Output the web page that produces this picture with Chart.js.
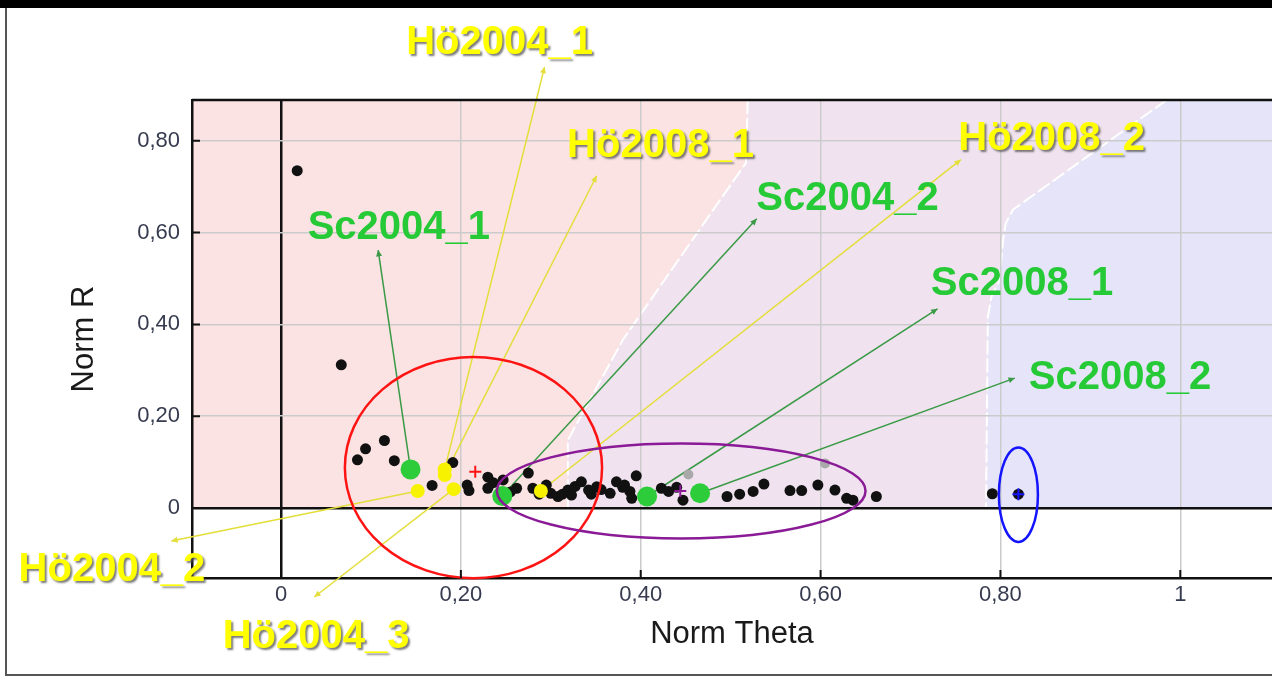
<!DOCTYPE html>
<html>
<head>
<meta charset="utf-8">
<script src="https://cdn.jsdelivr.net/npm/chart.js@4.4.1/dist/chart.umd.min.js"></script>
<style>
  html, body { margin: 0; padding: 0; background: #fff; }
</style>
</head>
<body>
<canvas id="chart" width="1272" height="677"></canvas>
<script>
// axis ticks
const xTickValues = [0, 0.2, 0.4, 0.6, 0.8, 1];
const xTickLabels = ['0', '0,20', '0,40', '0,60', '0,80', '1'];
const yTickValues = [0, 0.2, 0.4, 0.6, 0.8];
const yTickLabels = ['0', '0,20', '0,40', '0,60', '0,80'];

// all samples (black)
const blackTheta = [0.018, 0.067, 0.085, 0.094, 0.115, 0.126, 0.168, 0.191, 0.207, 0.209,
  0.230, 0.230, 0.236, 0.247, 0.255, 0.262, 0.275, 0.280, 0.287, 0.295, 0.300, 0.308, 0.313,
  0.319, 0.323, 0.327, 0.334, 0.342, 0.345, 0.351, 0.356, 0.366, 0.373, 0.380, 0.382, 0.388,
  0.390, 0.395, 0.423, 0.431, 0.440, 0.447, 0.496, 0.510, 0.525, 0.537, 0.566, 0.579, 0.597,
  0.616, 0.629, 0.636, 0.662, 0.791, 0.820];
const blackR = [0.735, 0.312, 0.105, 0.129, 0.147, 0.103, 0.049, 0.099, 0.050, 0.038,
  0.067, 0.043, 0.055, 0.061, 0.035, 0.043, 0.076, 0.043, 0.030, 0.050, 0.032, 0.025, 0.030,
  0.039, 0.028, 0.047, 0.057, 0.039, 0.030, 0.046, 0.040, 0.032, 0.057, 0.045, 0.050, 0.036,
  0.021, 0.070, 0.043, 0.036, 0.045, 0.017, 0.025, 0.030, 0.036, 0.052, 0.038, 0.038, 0.050,
  0.039, 0.021, 0.017, 0.025, 0.031, 0.030];
const grayTheta = [0.453, 0.605];
const grayR = [0.073, 0.097];

// labelled samples
const scNames = ['Sc2004_1', 'Sc2004_2', 'Sc2008_1', 'Sc2008_2'];
const scTheta = [0.144, 0.246, 0.407, 0.466];
const scR = [0.084, 0.026, 0.025, 0.032];
const scTipTheta = [0.108, 0.529, 0.730, 0.816];
const scTipR = [0.562, 0.630, 0.434, 0.283];
const scLabelTheta = [0.131, 0.630, 0.824, 0.933];
const scLabelR = [0.610, 0.674, 0.488, 0.284];

const hoNames = ['Hö2004_1', 'Hö2004_2', 'Hö2004_3', 'Hö2008_1', 'Hö2008_2'];
const hoTheta = [0.182, 0.152, 0.192, 0.182, 0.289];
const hoR = [0.084, 0.037, 0.041, 0.072, 0.037];
const hoTipTheta = [0.293, -0.122, 0.037, 0.351, 0.756];
const hoTipR = [0.961, -0.072, -0.194, 0.724, 0.759];
const hoLabelTheta = [0.243, -0.188, 0.039, 0.422, 0.857];
const hoLabelR = [1.014, -0.135, -0.281, 0.789, 0.804];

// group centres and their ellipses
const centreTheta = [0.216, 0.444, 0.820];
const centreR = [0.079, 0.037, 0.030];
const ellipseTheta = [0.214, 0.445, 0.820];
const ellipseR = [0.088, 0.037, 0.029];
const ellipseHalfW = [0.143, 0.205, 0.0217];
const ellipseHalfH = [0.241, 0.1035, 0.103];
const groupColors = ['#ff1414', '#8a1a96', '#1414ff'];

// class region boundaries (top to zero line)
const boundary1 = [[0.519, 0.889], [0.517, 0.752], [0.380, 0.366], [0.325, 0.170], [0.319, 0.148], [0.319, 0]];
const boundary2 = [[0.985, 0.889], [0.896, 0.765], [0.814, 0.650], [0.806, 0.621], [0.803, 0.584],
  [0.799, 0.497], [0.790, 0.460], [0.786, 0.416], [0.784, 0]];

const FONT = '"Liberation Sans", Arial, sans-serif';
const pts = (xs, ys) => xs.map((v, i) => ({ x: v, y: ys[i] }));

function arrow(ctx, x1, y1, x2, y2, color, head) {
  ctx.strokeStyle = color;
  ctx.fillStyle = color;
  ctx.lineWidth = 1.5;
  ctx.beginPath();
  ctx.moveTo(x1, y1);
  ctx.lineTo(x2, y2);
  ctx.stroke();
  const ang = Math.atan2(y2 - y1, x2 - x1);
  ctx.beginPath();
  ctx.moveTo(x2, y2);
  ctx.lineTo(x2 - head * Math.cos(ang - 0.45), y2 - head * Math.sin(ang - 0.45));
  ctx.lineTo(x2 - head * Math.cos(ang + 0.45), y2 - head * Math.sin(ang + 0.45));
  ctx.closePath();
  ctx.fill();
}

const decor = {
  id: 'decor',
  beforeDraw(chart) {
    const { ctx, chartArea: a, scales: { x, y } } = chart;
    const px = p => [x.getPixelForValue(p[0]), y.getPixelForValue(p[1])];
    const b1 = boundary1.map(px), b2 = boundary2.map(px);
    const y0 = y.getPixelForValue(0);
    ctx.save();
    ctx.fillStyle = '#fff';
    ctx.fillRect(0, 0, chart.width, chart.height);

    ctx.fillStyle = '#fbe3e4';
    ctx.beginPath();
    ctx.moveTo(a.left, a.top);
    b1.forEach(p => ctx.lineTo(p[0], p[1]));
    ctx.lineTo(a.left, y0);
    ctx.closePath();
    ctx.fill();

    ctx.fillStyle = '#f0e3ef';
    ctx.beginPath();
    b1.forEach((p, i) => i ? ctx.lineTo(p[0], p[1]) : ctx.moveTo(p[0], p[1]));
    b2.slice().reverse().forEach(p => ctx.lineTo(p[0], p[1]));
    ctx.closePath();
    ctx.fill();

    ctx.fillStyle = '#e5e4f9';
    ctx.beginPath();
    b2.forEach((p, i) => i ? ctx.lineTo(p[0], p[1]) : ctx.moveTo(p[0], p[1]));
    ctx.lineTo(a.right, y0);
    ctx.lineTo(a.right, a.top);
    ctx.closePath();
    ctx.fill();

    ctx.strokeStyle = '#ffffff';
    ctx.lineWidth = 2;
    ctx.setLineDash([14, 4]);
    [b1, b2].forEach(b => {
      ctx.beginPath();
      b.forEach((p, i) => i ? ctx.lineTo(p[0], p[1]) : ctx.moveTo(p[0], p[1]));
      ctx.stroke();
    });
    ctx.restore();
  },
  beforeDatasetsDraw(chart) {
    const { ctx, scales: { x, y } } = chart;
    ctx.save();
    scNames.forEach((n, i) => {
      arrow(ctx, x.getPixelForValue(scTheta[i]), y.getPixelForValue(scR[i]),
        x.getPixelForValue(scTipTheta[i]), y.getPixelForValue(scTipR[i]), '#3a9a46', 7);
    });
    hoNames.forEach((n, i) => {
      arrow(ctx, x.getPixelForValue(hoTheta[i]), y.getPixelForValue(hoR[i]),
        x.getPixelForValue(hoTipTheta[i]), y.getPixelForValue(hoTipR[i]), '#e4de3a', 7);
    });
    ctx.restore();
  },
  afterDatasetsDraw(chart) {
    const { ctx, scales: { x, y } } = chart;
    ctx.save();
    ellipseTheta.forEach((cx, i) => {
      const px = x.getPixelForValue(cx), py = y.getPixelForValue(ellipseR[i]);
      const rx = x.getPixelForValue(cx + ellipseHalfW[i]) - px;
      const ry = py - y.getPixelForValue(ellipseR[i] + ellipseHalfH[i]);
      ctx.strokeStyle = groupColors[i];
      ctx.lineWidth = 2.5;
      ctx.beginPath();
      ctx.ellipse(px, py, rx, ry, 0, 0, Math.PI * 2);
      ctx.stroke();
    });

    ctx.font = 'bold 40px ' + FONT;
    ctx.textAlign = 'center';
    ctx.textBaseline = 'middle';
    ctx.fillStyle = '#26c936';
    scNames.forEach((n, i) => {
      ctx.fillText(n, x.getPixelForValue(scLabelTheta[i]), y.getPixelForValue(scLabelR[i]));
    });
    ctx.fillStyle = '#ffff00';
    ctx.shadowColor = 'rgba(80,80,80,0.75)';
    ctx.shadowOffsetX = 2;
    ctx.shadowOffsetY = 2;
    ctx.shadowBlur = 2;
    hoNames.forEach((n, i) => {
      ctx.fillText(n, x.getPixelForValue(hoLabelTheta[i]), y.getPixelForValue(hoLabelR[i]));
    });
    ctx.restore();
  },
  afterDraw(chart) {
    const { ctx, chartArea: a, scales: { x, y } } = chart;
    ctx.save();
    ctx.strokeStyle = '#111';
    ctx.lineWidth = 2.5;
    ctx.beginPath();
    ctx.moveTo(a.left, a.top);
    ctx.lineTo(a.right, a.top);
    ctx.stroke();
    ctx.lineWidth = 2;
    ctx.beginPath();
    yTickValues.forEach(v => {
      const py = y.getPixelForValue(v);
      ctx.moveTo(a.left, py);
      ctx.lineTo(a.left + 8, py);
    });
    xTickValues.forEach(v => {
      const px = x.getPixelForValue(v);
      ctx.moveTo(px, a.bottom);
      ctx.lineTo(px, a.bottom - 8);
    });
    ctx.stroke();

    // picture frame
    ctx.fillStyle = '#000';
    ctx.fillRect(0, 0, chart.width, 8);
    ctx.strokeStyle = '#555';
    ctx.lineWidth = 2;
    ctx.beginPath();
    ctx.moveTo(6, 8);
    ctx.lineTo(6, 675);
    ctx.lineTo(chart.width, 675);
    ctx.stroke();
    ctx.restore();
  }
};

new Chart(document.getElementById('chart'), {
  type: 'scatter',
  data: {
    datasets: [
      { data: pts(centreTheta, centreR), pointStyle: 'cross', pointRadius: 6, borderWidth: 2,
        borderColor: groupColors, backgroundColor: groupColors },
      { data: pts(scTheta, scR), pointRadius: 10, backgroundColor: '#2dcc3a', borderWidth: 0 },
      { data: pts(hoTheta, hoR), pointRadius: 7, backgroundColor: '#f6f200', borderWidth: 0 },
      { data: pts(grayTheta, grayR), pointRadius: 5, backgroundColor: '#a9a9a9', borderWidth: 0 },
      { data: pts(blackTheta, blackR), pointRadius: 5.5, backgroundColor: '#111', borderWidth: 0 }
    ]
  },
  options: {
    responsive: false,
    animation: false,
    layout: { autoPadding: false, padding: { top: 100, left: 0, right: 0, bottom: 0 } },
    plugins: { legend: { display: false }, tooltip: { enabled: false } },
    scales: {
      x: {
        type: 'linear',
        min: -0.099,
        max: 1.102,
        afterFit: s => { s.height = 99; s.paddingLeft = 0; s.paddingRight = 0; },
        afterBuildTicks: s => { s.ticks = xTickValues.map(v => ({ value: v })); },
        ticks: {
          callback: (v, i) => xTickLabels[i],
          font: { family: FONT, size: 22 },
          color: '#363b4f',
          padding: 4,
          maxRotation: 0
        },
        grid: {
          drawTicks: false,
          color: c => c.tick && c.tick.value === 0 ? '#111' : '#cbcbcb',
          lineWidth: c => c.tick && c.tick.value === 0 ? 2.5 : 1.5
        },
        border: { color: '#111', width: 2.5 },
        title: {
          display: true,
          text: 'Norm Theta',
          font: { family: FONT, size: 31 },
          color: '#1a1a1a',
          padding: { top: 0, bottom: 24 }
        }
      },
      y: {
        type: 'linear',
        min: -0.1526,
        max: 0.889,
        afterFit: s => { s.width = 192; s.paddingTop = 0; s.paddingBottom = 0; },
        afterBuildTicks: s => { s.ticks = yTickValues.map(v => ({ value: v })); },
        ticks: {
          callback: (v, i) => yTickLabels[i],
          font: { family: FONT, size: 22 },
          color: '#363b4f',
          padding: 12
        },
        grid: {
          drawTicks: false,
          color: c => c.tick && c.tick.value === 0 ? '#111' : '#cbcbcb',
          lineWidth: c => c.tick && c.tick.value === 0 ? 2.5 : 1.5
        },
        border: { color: '#111', width: 2.5 },
        title: {
          display: true,
          text: 'Norm R',
          font: { family: FONT, size: 31 },
          color: '#1a1a1a',
          padding: { top: 66, bottom: 0 }
        }
      }
    }
  },
  plugins: [decor]
});
</script>
</body>
</html>
